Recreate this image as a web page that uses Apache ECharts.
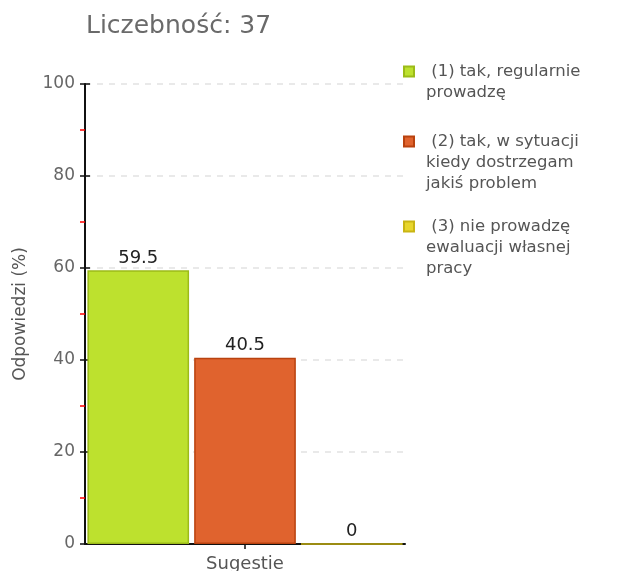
<!DOCTYPE html>
<html>
<head>
<meta charset="utf-8">
<script src="https://cdn.jsdelivr.net/npm/echarts@6/dist/echarts.min.js"></script>
<style>
  html, body { margin: 0; padding: 0; background: #fff; }
  #chart { width: 617px; height: 571px; }
</style>
</head>
<body>
<div id="chart"></div>
<script>
var categories = ['Sugestie'];
var seriesNames = ['(1) tak, regularnie prowadzę', '(2) tak, w sytuacji kiedy dostrzegam jakiś problem', '(3) nie prowadzę ewaluacji własnej pracy'];
var legendLabels = [' (1) tak, regularnie\nprowadzę', ' (2) tak, w sytuacji\nkiedy dostrzegam\njakiś problem', ' (3) nie prowadzę\newaluacji własnej\npracy'];
var values = [59.5, 40.5, 0];
var fills = ['#bde12e', '#e0632e', '#e8d62c'];
var borders = ['#9cbb18', '#b9420f', '#c9b514'];
var legendTops = [60, 130, 215];

var font = 'DejaVu Sans';
var lineH = 21;
var myChart = echarts.init(document.getElementById('chart'));

var series = seriesNames.map(function (name, i) {
    return {
        name: name,
        type: 'bar',
        barGap: '5%',
        barCategoryGap: '1.5%',
        data: [values[i]],
        itemStyle: { color: fills[i], borderColor: borders[i], borderWidth: 1.5 },
        label: {
            show: true,
            position: 'top',
            distance: 3,
            color: '#222',
            fontFamily: font,
            fontSize: 18
        }
    };
});

// square icon sitting on the first text line, inside a box as tall as the label
function iconPath(h) {
    var s = lineH / 2 - 5;
    return 'path://M0,0L0,0M0,' + s + 'L10,' + s + 'L10,' + (s + 10) + 'L0,' + (s + 10) + 'ZM0,' + h + 'L0,' + h;
}

var legends = seriesNames.map(function (name, i) {
    var h = legendLabels[i].split('\n').length * lineH;
    return {
        left: 403,
        top: legendTops[i],
        padding: 0,
        orient: 'vertical',
        data: [{ name: name, icon: iconPath(h) }],
        itemWidth: 10,
        itemHeight: h,
        selectedMode: false,
        formatter: function () { return legendLabels[i]; },
        textStyle: {
            color: '#555',
            fontFamily: font,
            fontSize: 16.5,
            lineHeight: lineH,
            padding: [0, 0, 0, 7]
        }
    };
});

var option = {
    animation: false,
    title: {
        text: 'Liczebność: 37',
        left: 86,
        top: 14,
        padding: 0,
        textStyle: { color: '#6a6a6a', fontFamily: font, fontSize: 25, fontWeight: 'normal' }
    },
    legend: legends,
    grid: { left: 85, right: 212, top: 84, bottom: 27, containLabel: false, outerBoundsMode: 'none' },
    xAxis: {
        type: 'category',
        data: categories,
        axisLine: { lineStyle: { color: '#111', width: 2 } },
        axisTick: { show: true, alignWithLabel: true, length: 5, lineStyle: { color: '#111', width: 1.5 } },
        axisLabel: { color: '#555', fontFamily: font, fontSize: 18, margin: 11 }
    },
    yAxis: [
        {
            type: 'value',
            min: 0,
            max: 100,
            interval: 20,
            name: 'Odpowiedzi (%)',
            nameLocation: 'middle',
            nameGap: 56,
            nameTextStyle: { color: '#555', fontFamily: font, fontSize: 17 },
            axisLine: { show: true, lineStyle: { color: '#111', width: 2 } },
            axisTick: { show: true, length: 5, lineStyle: { color: '#111', width: 1.5 } },
            minorTick: { show: true, splitNumber: 2, length: 5, lineStyle: { color: '#f00', width: 1.5 } },
            axisLabel: { color: '#666', fontFamily: font, fontSize: 17, margin: 10 },
            splitLine: { show: true, lineStyle: { color: '#e2e2e2', type: [6, 6], width: 1.5 } }
        },
        {
            type: 'value',
            position: 'left',
            min: 0,
            max: 100,
            interval: 20,
            axisLine: { show: false },
            axisTick: { show: true, inside: true, length: 5, lineStyle: { color: '#111', width: 1.5 } },
            axisLabel: { show: false },
            splitLine: { show: false }
        }
    ],
    series: series
};

myChart.setOption(option);
</script>
</body>
</html>
